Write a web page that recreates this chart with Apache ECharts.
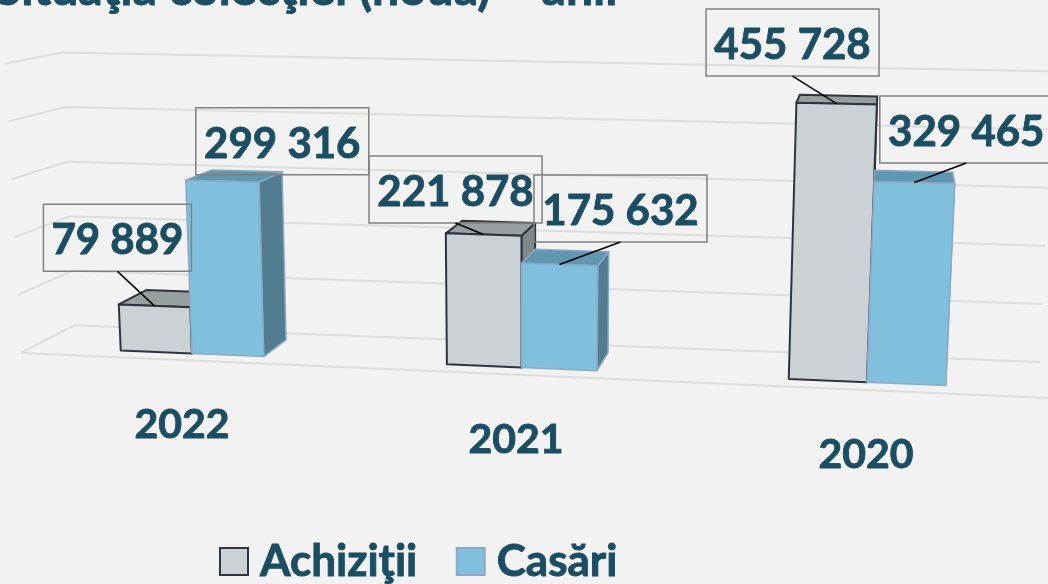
<!DOCTYPE html>
<html>
<head>
<meta charset="utf-8">
<style>
  html, body { margin: 0; padding: 0; background: #f2f2f2; }
  #chart { width: 1048px; height: 584px; }
</style>
<script src="https://cdn.jsdelivr.net/npm/echarts@6/dist/echarts.min.js"></script>
</head>
<body>
<div id="chart"></div>
<script>
  'use strict'

  //------------------- Data -------------------//
  const categories = ['2022', '2021', '2020']
  const achizitii = [79889, 221878, 455728]
  const casari = [299316, 175632, 329465]
  const yTicks = [0, 100000, 200000, 300000, 400000, 500000]

  //------------------- Layout & styles -------------------//
  const FONT = 'Lato, "Open Sans", sans-serif'
  const TEXT_COLOR = '#1b4d63'
  const BAR_WIDTH = 76
  const BAR_FRONT = 0.4
  const BAR_BACK = 1.4
  const WALL_DEPTH = 1.77

  // label box centre relative to the bar's top-front midpoint
  const achizLabelOffsets = [[-37, -68], [-28, -45], [-44, -61]]
  const casariLabelOffsets = [[60, -40], [61, -56], [52, -53]]
  const casariLeader = [false, true, true]

  const achizStyle = {front: '#cbd1d4', top: '#989f9f', side: '#808889', stroke: '#2f3440', width: 2}
  const casariStyle = {front: '#80c0dd', top: '#6097b0', side: '#527c90', stroke: '#8ba9c6', width: 1.5}

  //------------------- Pseudo 3D projection -------------------//
  // grid x -> floor x, a slight stretch towards the right
  const floorX = x => x + 6.8e-5 * (x - 182) * (x - 866)

  // x: grid x, h: height in grid px over the floor, d: depth into the chart
  const project = (x, h, d) => {
    const fx = floorX(x)
    const hp = h * (0.965 + 8e-5 * (fx - 22))
    return [
      fx + (fx - 520) * 1.1e-4 * (1 - 0.17 * d) * hp + d * 0.033 * (930 - fx),
      353 + 0.0438 * (fx - 22) - hp - d * (15.5 + 0.0045 * fx) * (1 - hp / 480),
    ]
  }

  const barItem = (style, side) => (params, api) => {
    const catX = api.coord([api.value(0), 0])
    const top = api.coord([api.value(0), api.value(1)])
    const h = catX[1] - top[1]
    const x0 = catX[0] + (side < 0 ? -BAR_WIDTH : 0)
    const x1 = x0 + BAR_WIDTH
    const face = (points, fill) => ({
      type: 'polygon',
      shape: {points},
      style: {fill, stroke: style.stroke, lineWidth: style.width, lineJoin: 'round'},
    })
    return {
      type: 'group',
      children: [
        face([project(x1, 0, BAR_FRONT), project(x1, 0, BAR_BACK), project(x1, h, BAR_BACK), project(x1, h, BAR_FRONT)], style.side),
        face([project(x0, h, BAR_FRONT), project(x0, h, BAR_BACK), project(x1, h, BAR_BACK), project(x1, h, BAR_FRONT)], style.top),
        face([project(x0, 0, BAR_FRONT), project(x1, 0, BAR_FRONT), project(x1, h, BAR_FRONT), project(x0, h, BAR_FRONT)], style.front),
      ],
    }
  }

  const labelItem = (offsets, side, leaders) => (params, api) => {
    const catX = api.coord([api.value(0), 0])
    const top = api.coord([api.value(0), api.value(1)])
    const h = catX[1] - top[1]
    const anchor = project(catX[0] + side * BAR_WIDTH / 2, h, BAR_FRONT)
    const off = offsets[params.dataIndex]
    const cx = anchor[0] + off[0]
    const cy = anchor[1] + off[1]
    const digits = String(api.value(1))
    const text = digits.replace(/(\d{3})$/, ' $1')
    const boxW = digits.length > 5 ? 173 : 148
    const children = [
      {
        type: 'rect',
        shape: {x: cx - boxW / 2, y: cy - 33.5, width: boxW, height: 67},
        style: {fill: 'none', stroke: '#808080', lineWidth: 1.5},
      },
      {
        type: 'text',
        style: {
          x: cx, y: cy + 3, text, fill: TEXT_COLOR, align: 'center', verticalAlign: 'middle',
          font: `bold 42px ${FONT}`, stroke: TEXT_COLOR, lineWidth: 0.9,
        },
      },
    ]
    if (!leaders || leaders[params.dataIndex]) {
      children.push({
        type: 'line',
        shape: {x1: cx, y1: cy + 33.5, x2: anchor[0], y2: anchor[1]},
        style: {stroke: '#000', lineWidth: 1.5},
      })
    }
    return {type: 'group', children}
  }

  const wallItem = (params, api) => {
    const {x, width} = params.coordSys
    const base = api.coord([0, 0])[1]
    const h = base - api.coord([0, api.value(0)])[1]
    const lineStyle = {stroke: '#dcdcdc', lineWidth: 2, fill: 'none'}
    const points = [project(x, h, 0), project(x, h, WALL_DEPTH), project(x + width, h, WALL_DEPTH)]
    const children = [{type: 'polyline', shape: {points}, style: lineStyle}]
    if (api.value(0) === 0) {
      children.push({
        type: 'line',
        shape: {x1: points[0][0], y1: points[0][1], x2: project(x + width + 6, 0, 0)[0], y2: project(x + width + 6, 0, 0)[1]},
        style: lineStyle,
      })
    }
    return {type: 'group', children}
  }

  const categoryItem = (params, api) => {
    const catX = api.coord([api.value(0), 0])[0]
    const floor = project(catX, 0, 0)
    return {
      type: 'text',
      style: {
        x: floor[0], y: floor[1] + 65, text: categories[api.value(0)], fill: TEXT_COLOR,
        align: 'center', verticalAlign: 'middle', font: `bold 41px ${FONT}`,
        stroke: TEXT_COLOR, lineWidth: 0.9,
      },
    }
  }

  const toPairs = values => values.map((v, i) => [i, v])

  const barSeries = (name, values, style, side) => ({
    name,
    type: 'custom',
    clip: false,
    renderItem: barItem(style, side),
    data: toPairs(values),
    encode: {x: 0, y: 1},
    itemStyle: {color: style.front, borderColor: style.stroke, borderWidth: 2},
    silent: true,
    z: 3,
  })

  const helperSeries = (renderItem, data, z) => ({
    type: 'custom',
    clip: false,
    renderItem,
    data,
    silent: true,
    z,
  })

  //------------------- Chart -------------------//
  const chart = echarts.init(document.getElementById('chart'))

  chart.setOption({
    backgroundColor: '#f2f2f2',
    animation: false,
    title: {
      text: 'Situaţia colecţiei (nouă) – anii',
      left: -10,
      top: -39,
      textStyle: {
        color: TEXT_COLOR, fontFamily: FONT, fontWeight: 'bold', fontSize: 48,
        textBorderColor: TEXT_COLOR, textBorderWidth: 0.9,
      },
    },
    legend: {
      data: ['Achiziţii', 'Casări'],
      left: 214,
      top: 534,
      icon: 'rect',
      itemWidth: 28,
      itemHeight: 27,
      itemGap: 38,
      selectedMode: false,
      textStyle: {
        color: TEXT_COLOR, fontFamily: FONT, fontWeight: 'bold', fontSize: 44, padding: [0, 0, 0, 7],
        textBorderColor: TEXT_COLOR, textBorderWidth: 0.9,
      },
    },
    grid: {left: 11, right: 11, top: 60, height: 300},
    xAxis: {type: 'category', data: categories, show: false},
    yAxis: {type: 'value', min: 0, max: 500000, interval: 100000, show: false},
    series: [
      helperSeries(wallItem, yTicks.map(t => [t]), 1),
      barSeries('Achiziţii', achizitii, achizStyle, -1),
      barSeries('Casări', casari, casariStyle, 1),
      helperSeries(categoryItem, categories.map((c, i) => [i]), 4),
      helperSeries(labelItem(achizLabelOffsets, -1), toPairs(achizitii), 5),
      helperSeries(labelItem(casariLabelOffsets, 1, casariLeader), toPairs(casari), 5),
    ],
  })
</script>
</body>
</html>
